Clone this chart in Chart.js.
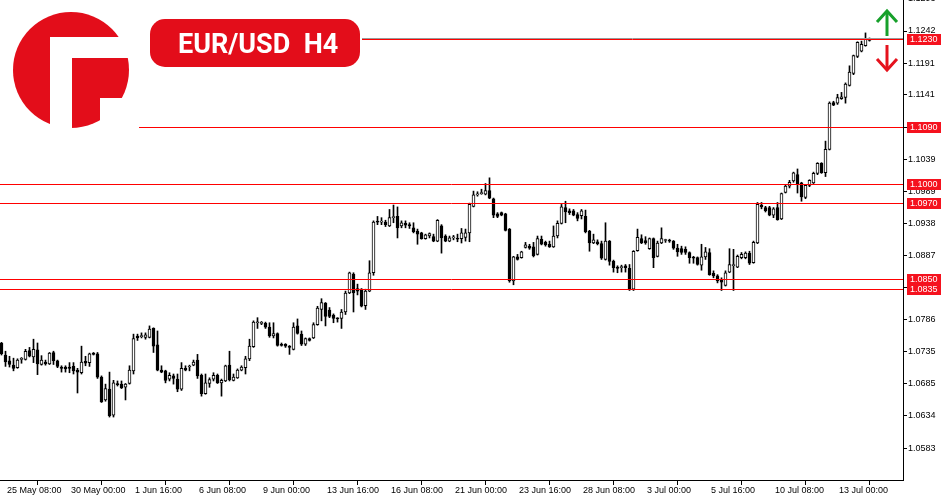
<!DOCTYPE html>
<html><head><meta charset="utf-8">
<script src="https://cdn.jsdelivr.net/npm/chart.js@4.4.0/dist/chart.umd.min.js"></script>
<style>html,body{margin:0;padding:0;background:#fff;}canvas{display:block;}</style>
</head><body>
<canvas id="c" width="950" height="500" style="width:950px;height:500px"></canvas>
<script>
// ---- data (EUR/USD H4, first bar 25 May 04:00) ----
const openP = [
1.0749,1.0730,1.0721,1.0714,1.0710,1.0723,1.0723,1.0737,1.0727,1.0738,
1.0715,1.0719,1.0716,1.0734,1.0721,1.0711,1.0711,1.0711,1.0712,1.0706,
1.0702,1.0720,1.0718,1.0733,1.0732,1.0695,1.0659,1.0676,1.0635,1.0685,
1.0684,1.0679,1.0685,1.0705,1.0760,1.0759,1.0758,1.0758,1.0772,1.0746,
1.0706,1.0705,1.0692,1.0697,1.0692,1.0676,1.0709,1.0711,1.0714,1.0722,
1.0698,1.0669,1.0685,1.0692,1.0698,1.0686,1.0689,1.0714,1.0690,1.0694,
1.0706,1.0710,1.0724,1.0743,1.0781,1.0780,1.0780,1.0774,1.0760,1.0764,
1.0747,1.0747,1.0744,1.0739,1.0776,1.0763,1.0747,1.0756,1.0757,1.0778,
1.0802,1.0812,1.0801,1.0793,1.0788,1.0788,1.0798,1.0828,1.0858,1.0835,
1.0834,1.0808,1.0831,1.0860,1.0941,1.0940,1.0940,1.0934,1.0947,1.0949,
1.0934,1.0938,1.0936,1.0931,1.0926,1.0923,1.0914,1.0918,1.0917,1.0910,
1.0934,1.0918,1.0910,1.0915,1.0914,1.0914,1.0916,1.0923,1.0965,1.0983,
1.0985,1.0984,1.0990,1.0977,1.0953,1.0955,1.0953,1.0929,1.0847,1.0885,
1.0884,1.0900,1.0902,1.0901,1.0889,1.0913,1.0908,1.0905,1.0901,1.0918,
1.0938,1.0963,1.0958,1.0958,1.0952,1.0950,1.0949,1.0926,1.0907,1.0909,
1.0906,1.0881,1.0910,1.0878,1.0869,1.0868,1.0871,1.0867,1.0834,1.0895,
1.0914,1.0911,1.0898,1.0914,1.0886,1.0907,1.0911,1.0911,1.0910,1.0899,
1.0898,1.0897,1.0892,1.0884,1.0884,1.0872,1.0885,1.0892,1.0859,1.0855,
1.0848,1.0840,1.0861,1.0871,1.0869,1.0884,1.0884,1.0891,1.0876,1.0907,
1.0967,1.0963,1.0963,1.0951,1.0963,1.0945,1.0987,1.0997,1.1005,1.1015,
1.1002,1.0979,1.0998,1.1002,1.1017,1.1033,1.1018,1.1055,1.1129,1.1128,
1.1135,1.1137,1.1156,1.1175,1.1202,1.1210,1.1219,1.1229];
const highP = [
1.0750,1.0736,1.0728,1.0725,1.0724,1.0726,1.0739,1.0742,1.0755,1.0749,
1.0729,1.0722,1.0734,1.0736,1.0722,1.0713,1.0713,1.0718,1.0718,1.0709,
1.0744,1.0728,1.0733,1.0734,1.0734,1.0697,1.0684,1.0703,1.0690,1.0689,
1.0689,1.0685,1.0713,1.0763,1.0763,1.0765,1.0765,1.0776,1.0773,1.0768,
1.0713,1.0706,1.0702,1.0700,1.0700,1.0718,1.0713,1.0714,1.0722,1.0731,
1.0700,1.0700,1.0694,1.0702,1.0700,1.0692,1.0714,1.0736,1.0700,1.0708,
1.0713,1.0728,1.0755,1.0784,1.0789,1.0783,1.0782,1.0781,1.0781,1.0765,
1.0749,1.0748,1.0745,1.0781,1.0787,1.0768,1.0757,1.0757,1.0781,1.0807,
1.0819,1.0813,1.0805,1.0795,1.0789,1.0802,1.0831,1.0861,1.0860,1.0842,
1.0835,1.0834,1.0879,1.0942,1.0949,1.0947,1.0943,1.0960,1.0967,1.0964,
1.0942,1.0942,1.0939,1.0939,1.0929,1.0924,1.0921,1.0923,1.0921,1.0944,
1.0936,1.0920,1.0918,1.0919,1.0921,1.0930,1.0929,1.0970,1.0989,1.0988,
1.0992,1.1001,1.1010,1.0978,1.0955,1.0956,1.0954,1.0930,1.0886,1.0889,
1.0894,1.0908,1.0905,1.0908,1.0918,1.0918,1.0910,1.0910,1.0934,1.0942,
1.0968,1.0973,1.0961,1.0960,1.0955,1.0960,1.0959,1.0927,1.0921,1.0912,
1.0910,1.0939,1.0911,1.0880,1.0871,1.0872,1.0873,1.0873,1.0895,1.0929,
1.0920,1.0917,1.0915,1.0915,1.0910,1.0931,1.0913,1.0913,1.0911,1.0905,
1.0902,1.0901,1.0893,1.0886,1.0885,1.0905,1.0900,1.0898,1.0863,1.0857,
1.0852,1.0863,1.0898,1.0897,1.0888,1.0892,1.0893,1.0894,1.0910,1.0971,
1.0971,1.0965,1.0965,1.0963,1.0971,1.0986,1.0999,1.1006,1.1019,1.1024,
1.1003,1.0999,1.1007,1.1019,1.1034,1.1034,1.1068,1.1130,1.1131,1.1142,
1.1145,1.1160,1.1187,1.1204,1.1225,1.1226,1.1239,1.1231];
const lowP = [
1.0730,1.0712,1.0711,1.0705,1.0709,1.0717,1.0722,1.0727,1.0718,1.0699,
1.0714,1.0714,1.0715,1.0715,1.0710,1.0703,1.0703,1.0702,1.0700,1.0670,
1.0700,1.0713,1.0712,1.0730,1.0693,1.0655,1.0657,1.0632,1.0632,1.0681,
1.0677,1.0659,1.0684,1.0700,1.0753,1.0757,1.0755,1.0757,1.0734,1.0705,
1.0702,1.0686,1.0689,1.0684,1.0672,1.0674,1.0705,1.0705,1.0713,1.0693,
1.0665,1.0668,1.0679,1.0689,1.0685,1.0665,1.0688,1.0689,1.0689,1.0693,
1.0705,1.0700,1.0721,1.0742,1.0772,1.0778,1.0772,1.0758,1.0757,1.0744,
1.0744,1.0742,1.0731,1.0738,1.0763,1.0745,1.0745,1.0752,1.0756,1.0777,
1.0784,1.0776,1.0789,1.0781,1.0782,1.0772,1.0794,1.0827,1.0798,1.0825,
1.0806,1.0802,1.0830,1.0856,1.0936,1.0936,1.0933,1.0933,1.0939,1.0915,
1.0931,1.0931,1.0930,1.0923,1.0905,1.0913,1.0913,1.0915,1.0909,1.0909,
1.0891,1.0909,1.0909,1.0912,1.0909,1.0907,1.0910,1.0909,1.0964,1.0981,
1.0984,1.0983,1.0977,1.0947,1.0947,1.0950,1.0926,1.0845,1.0841,1.0880,
1.0883,1.0899,1.0897,1.0885,1.0888,1.0904,1.0902,1.0900,1.0900,1.0915,
1.0937,1.0939,1.0952,1.0950,1.0942,1.0945,1.0923,1.0894,1.0906,1.0904,
1.0881,1.0880,1.0872,1.0861,1.0860,1.0861,1.0861,1.0832,1.0832,1.0894,
1.0906,1.0905,1.0897,1.0868,1.0885,1.0906,1.0908,1.0908,1.0897,1.0886,
1.0889,1.0889,1.0875,1.0875,1.0872,1.0864,1.0881,1.0856,1.0852,1.0844,
1.0832,1.0839,1.0860,1.0832,1.0868,1.0882,1.0882,1.0873,1.0875,1.0906,
1.0961,1.0956,1.0950,1.0947,1.0943,1.0944,1.0986,1.0994,1.1003,1.0986,
1.0973,1.0977,1.0996,1.1001,1.1015,1.1017,1.1012,1.1054,1.1124,1.1126,
1.1134,1.1128,1.1155,1.1173,1.1200,1.1209,1.1218,1.1226];
const closeP = [
1.0732,1.0719,1.0715,1.0709,1.0722,1.0724,1.0736,1.0728,1.0739,1.0716,
1.0722,1.0716,1.0733,1.0721,1.0712,1.0709,1.0708,1.0709,1.0705,1.0703,
1.0719,1.0717,1.0732,1.0731,1.0695,1.0656,1.0677,1.0634,1.0686,1.0683,
1.0678,1.0684,1.0706,1.0756,1.0757,1.0760,1.0762,1.0771,1.0744,1.0706,
1.0703,1.0690,1.0698,1.0693,1.0676,1.0709,1.0706,1.0712,1.0719,1.0697,
1.0669,1.0686,1.0691,1.0698,1.0686,1.0690,1.0713,1.0691,1.0695,1.0706,
1.0711,1.0724,1.0744,1.0782,1.0782,1.0781,1.0774,1.0760,1.0764,1.0745,
1.0745,1.0744,1.0742,1.0774,1.0764,1.0747,1.0756,1.0753,1.0778,1.0804,
1.0813,1.0791,1.0791,1.0788,1.0787,1.0798,1.0828,1.0860,1.0828,1.0831,
1.0807,1.0831,1.0860,1.0940,1.0940,1.0941,1.0936,1.0947,1.0948,1.0931,
1.0939,1.0935,1.0934,1.0925,1.0921,1.0914,1.0920,1.0922,1.0910,1.0943,
1.0915,1.0910,1.0915,1.0916,1.0913,1.0923,1.0923,1.0968,1.0983,1.0984,
1.0986,1.0990,1.0978,1.0951,1.0949,1.0951,1.0927,1.0847,1.0885,1.0881,
1.0893,1.0904,1.0899,1.0887,1.0914,1.0905,1.0904,1.0901,1.0918,1.0938,
1.0964,1.0956,1.0955,1.0951,1.0946,1.0958,1.0925,1.0907,1.0912,1.0906,
1.0883,1.0910,1.0878,1.0868,1.0867,1.0869,1.0868,1.0834,1.0894,1.0916,
1.0907,1.0907,1.0914,1.0884,1.0907,1.0914,1.0912,1.0910,1.0899,1.0893,
1.0892,1.0892,1.0884,1.0883,1.0873,1.0885,1.0893,1.0857,1.0855,1.0847,
1.0845,1.0860,1.0873,1.0873,1.0886,1.0889,1.0891,1.0875,1.0908,1.0968,
1.0964,1.0958,1.0951,1.0961,1.0944,1.0985,1.0997,1.1003,1.1018,1.0999,
1.0980,1.0998,1.1006,1.1017,1.1033,1.1018,1.1055,1.1128,1.1125,1.1137,
1.1138,1.1158,1.1177,1.1203,1.1224,1.1221,1.1229,1.1227];

const xTickIndex = [1,17,33,49,65,81,97,113,129,145,161,177,193,209];
const xTickLabels = ['25 May 08:00','30 May 00:00','1 Jun 16:00','6 Jun 08:00','9 Jun 00:00','13 Jun 16:00','16 Jun 08:00','21 Jun 00:00','23 Jun 16:00','28 Jun 08:00','3 Jul 00:00','5 Jul 16:00','10 Jul 08:00','13 Jul 00:00'];
const yTickValues = [1.1293,1.1242,1.1191,1.1141,1.1090,1.1039,1.0989,1.0938,1.0887,1.0837,1.0786,1.0735,1.0685,1.0634,1.0583];
const levelPrices = [1.1230,1.1090,1.1000,1.0970,1.0850,1.0835];
const titleText = 'EUR/USD  H4';

// ---- styles ----
const RED = '#e30d1a';
const LINE_RED = '#ff0000';
const LABEL_RED = '#f5121e';
const levelStartX = [362,139,0,0,0,0];
const FONT = 'Liberation Sans';

const barIndex = openP.map((_, i) => i);
const bodyData = barIndex.map(i => ({x: i, y: [openP[i], closeP[i]]}));
const wickData = barIndex.map(i => ({x: i, y: [lowP[i], highP[i]]}));
const bodyColors = barIndex.map(i => closeP[i] >= openP[i] ? '#ffffff' : '#000000');

function rr(ctx, x, y, w, h, r){
  ctx.beginPath();
  ctx.moveTo(x+r, y); ctx.lineTo(x+w-r, y); ctx.arcTo(x+w, y, x+w, y+r, r);
  ctx.lineTo(x+w, y+h-r); ctx.arcTo(x+w, y+h, x+w-r, y+h, r);
  ctx.lineTo(x+r, y+h); ctx.arcTo(x, y+h, x, y+h-r, r);
  ctx.lineTo(x, y+r); ctx.arcTo(x, y, x+r, y, r); ctx.closePath();
}

const overlay = {
  id: 'overlay',
  beforeDraw(chart){
    const c = chart.ctx; c.save(); c.fillStyle = '#fff'; c.fillRect(0,0,chart.width,chart.height); c.restore();
  },
  afterDatasetsDraw(chart){
    const {ctx, chartArea: a, scales: {y}} = chart;
    ctx.save();
    ctx.lineWidth = 1;
    levelPrices.forEach((p, i) => {
      const yy = Math.round(y.getPixelForValue(p)) + 0.5;
      if (i === 0) {
        ctx.strokeStyle = '#9a9a9a';
        ctx.beginPath(); ctx.moveTo(levelStartX[i], yy - 1); ctx.lineTo(a.right, yy - 1); ctx.stroke();
      }
      ctx.strokeStyle = LINE_RED;
      ctx.beginPath(); ctx.moveTo(levelStartX[i], yy); ctx.lineTo(a.right, yy); ctx.stroke();
    });
    ctx.restore();
  },
  afterDraw(chart){
    const {ctx, chartArea: a, scales: {y}} = chart;
    ctx.save();
    // logo
    ctx.fillStyle = RED;
    ctx.beginPath(); ctx.arc(71, 70, 58, 0, Math.PI*2); ctx.fill();
    ctx.fillStyle = '#fff';
    ctx.fillRect(50, 37, 22, 95);
    ctx.fillRect(50, 37, 84, 21);
    ctx.fillRect(100, 98, 34, 34);
    // title
    ctx.fillStyle = RED;
    rr(ctx, 150, 19, 210, 48, 15); ctx.fill();
    ctx.fillStyle = '#fff';
    ctx.font = 'bold 27px Roboto';
    ctx.textBaseline = 'alphabetic'; ctx.textAlign = 'left';
    ctx.fillText(titleText, 178, 53);
    // arrows
    ctx.lineWidth = 3; ctx.lineCap = 'butt'; ctx.lineJoin = 'miter';
    ctx.strokeStyle = '#17a02b';
    ctx.beginPath(); ctx.moveTo(887, 12); ctx.lineTo(887, 36); ctx.stroke();
    ctx.beginPath(); ctx.moveTo(877, 22); ctx.lineTo(887, 11); ctx.lineTo(897, 22); ctx.stroke();
    ctx.strokeStyle = '#e5121d';
    ctx.beginPath(); ctx.moveTo(887, 45); ctx.lineTo(887, 69); ctx.stroke();
    ctx.beginPath(); ctx.moveTo(877, 59); ctx.lineTo(887, 70); ctx.lineTo(897, 59); ctx.stroke();
    // price labels
    ctx.font = '9px "' + FONT + '"';
    ctx.textBaseline = 'middle';
    levelPrices.forEach(p => {
      const yy = Math.round(y.getPixelForValue(p));
      ctx.fillStyle = LABEL_RED;
      ctx.fillRect(907, yy - 5, 34, 11);
      ctx.fillStyle = '#fff';
      ctx.fillText(p.toFixed(4), 910, yy + 0.5);
    });
    ctx.restore();
  }
};

new Chart(document.getElementById('c'), {
  type: 'bar',
  data: {
    datasets: [
      { label: 'body', data: bodyData, backgroundColor: bodyColors, borderColor: '#000', borderWidth: 1,
        borderSkipped: false, barThickness: 3, minBarLength: 1, grouped: false, order: 0 },
      { label: 'wick', data: wickData, backgroundColor: '#000', borderWidth: 0,
        barThickness: 1, grouped: false, order: 1 }
    ]
  },
  options: {
    responsive: false, animation: false, devicePixelRatio: 1, events: [],
    layout: { padding: 0 },
    plugins: { legend: { display: false }, tooltip: { enabled: false }, title: { display: false } },
    scales: {
      x: {
        type: 'linear', min: -0.375, max: 225.375, offset: false,
        afterBuildTicks: s => { s.ticks = xTickIndex.map(v => ({ value: v })); },
        afterFit: s => { s.height = 20; s.paddingLeft = 0; s.paddingRight = 0; },
        ticks: { autoSkip: false, maxRotation: 0, minRotation: 0, align: 'start', labelOffset: 1.5, padding: 0,
          color: '#000', font: { family: FONT, size: 9 },
          callback: v => { const i = xTickIndex.indexOf(v); return i >= 0 ? xTickLabels[i] : ''; } },
        grid: { display: true, drawOnChartArea: false, drawTicks: true, tickLength: 5, color: '#000', lineWidth: 1 },
        border: { display: true, color: '#000', width: 1 }
      },
      y: {
        type: 'linear', position: 'right', min: 1.05325, max: 1.12910,
        afterBuildTicks: s => { s.ticks = yTickValues.map(v => ({ value: v })); },
        afterFit: s => { s.width = 47; s.paddingTop = 0; s.paddingBottom = 0; },
        ticks: { autoSkip: false, padding: 1, color: '#000', font: { family: FONT, size: 9 },
          callback: v => v.toFixed(4) },
        grid: { display: true, drawOnChartArea: false, drawTicks: true, tickLength: 4, color: '#000', lineWidth: 1 },
        border: { display: true, color: '#000', width: 1 }
      }
    }
  },
  plugins: [overlay]
});
</script>
</body></html>
